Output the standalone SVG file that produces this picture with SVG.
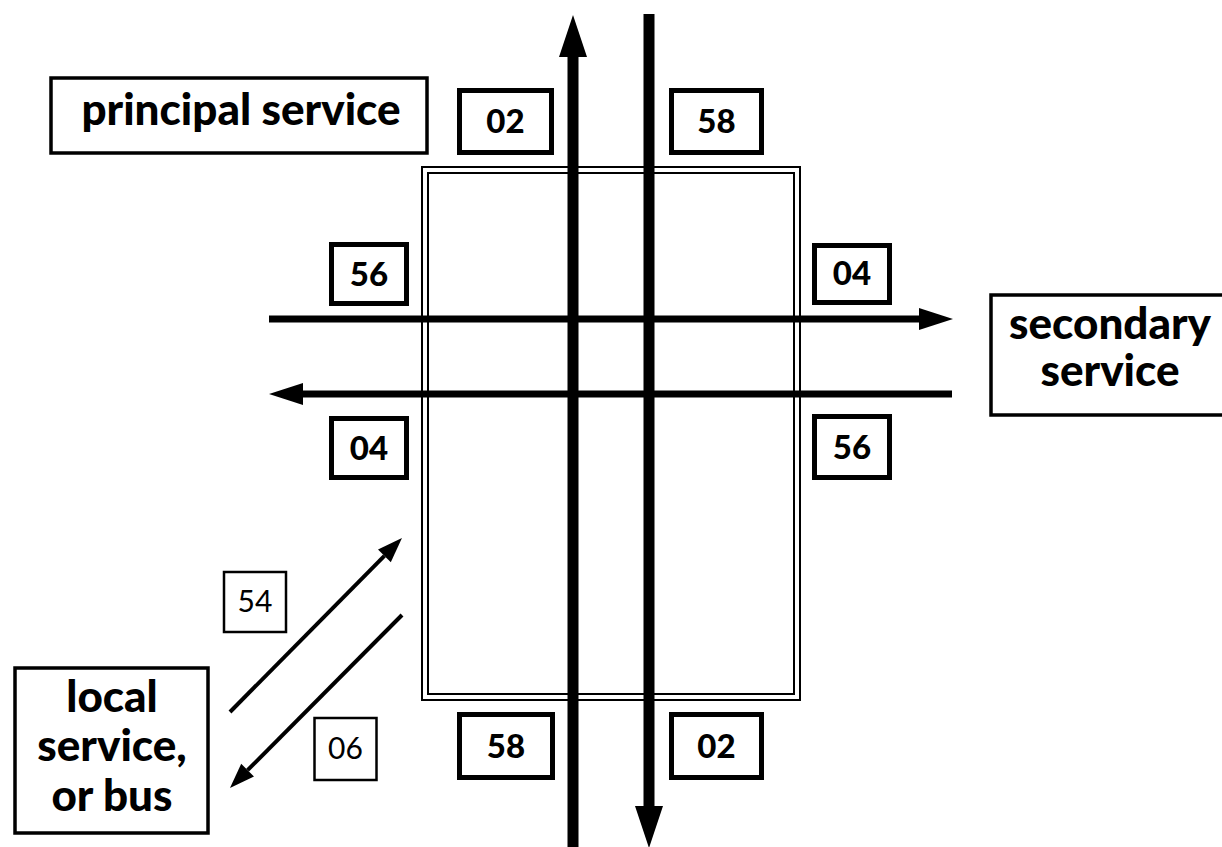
<svg xmlns="http://www.w3.org/2000/svg" width="1222" height="847" viewBox="0 0 1222 847">
  <style>
    .bg { fill: #ffffff; }
    .label { fill: #ffffff; stroke: #000000; stroke-width: 3.5; }
    .tag { fill: #ffffff; stroke: #000000; stroke-width: 5; }
    .thin { fill: #ffffff; stroke: #000000; stroke-width: 2.5; }
    .frame { fill: none; stroke: #000000; stroke-width: 2; }
    .big { font-family: Lato, "Liberation Sans", sans-serif; font-weight: 900; font-size: 44px; fill: #000000; text-anchor: middle; }
    .num { font-family: Lato, "Liberation Sans", sans-serif; font-weight: 900; font-size: 33px; fill: #000000; text-anchor: middle; }
    .numr { font-family: Lato, "Liberation Sans", sans-serif; font-weight: normal; font-size: 30px; fill: #000000; text-anchor: middle; }
    .track { stroke: #000000; fill: none; }
  </style>
  <defs>
    <marker id="headMain" markerUnits="userSpaceOnUse" orient="auto" refX="0" refY="0" markerWidth="50" markerHeight="40" viewBox="0 -20 50 40" overflow="visible">
      <path d="M0,-14 L42,0 L0,14 Z" fill="#000000"/>
    </marker>
    <marker id="headCross" markerUnits="userSpaceOnUse" orient="auto" refX="0" refY="0" markerWidth="40" markerHeight="30" viewBox="0 -15 40 30" overflow="visible">
      <path d="M0,-11 L34,0 L0,11 Z" fill="#000000"/>
    </marker>
    <marker id="headLocal" markerUnits="userSpaceOnUse" orient="auto" refX="0" refY="0" markerWidth="30" markerHeight="24" viewBox="0 -12 30 24" overflow="visible">
      <path d="M0,-9 L25,0 L0,9 Z" fill="#000000"/>
    </marker>
  </defs>

  <rect class="bg" x="0" y="0" width="1222" height="847"/>

  <!-- station building: double outline -->
  <g id="station">
    <rect class="frame" x="422" y="167" width="378" height="533"/>
    <rect class="frame" x="428" y="173" width="366" height="521"/>
  </g>

  <!-- service lines -->
  <g id="connectors" class="track">
    <line x1="573" y1="850" x2="573" y2="57" stroke-width="11" marker-end="url(#headMain)"/>
    <line x1="649" y1="14" x2="649" y2="806" stroke-width="11" marker-end="url(#headMain)"/>
    <line x1="269" y1="319" x2="919" y2="319" stroke-width="7" marker-end="url(#headCross)"/>
    <line x1="952" y1="394" x2="303" y2="394" stroke-width="7" marker-end="url(#headCross)"/>
    <line x1="230" y1="712" x2="384.4" y2="555.8" stroke-width="4" marker-end="url(#headLocal)"/>
    <line x1="402" y1="615" x2="247.6" y2="770.2" stroke-width="4" marker-end="url(#headLocal)"/>
  </g>

  <!-- service labels -->
  <g id="principal-service">
    <rect class="label" x="51" y="78" width="376" height="75"/>
    <text class="big" x="241" y="125">principal service</text>
  </g>
  <g id="secondary-service">
    <rect class="label" x="991" y="295" width="240" height="120"/>
    <text class="big" x="1110" y="339">secondary</text>
    <text class="big" x="1110" y="386">service</text>
  </g>
  <g id="local-service">
    <rect class="label" x="15" y="668" width="193" height="165"/>
    <text class="big" x="112" y="712">local</text>
    <text class="big" x="112" y="761">service,</text>
    <text class="big" x="112" y="811">or bus</text>
  </g>

  <!-- train numbers -->
  <g id="tag-02-north">
    <rect class="tag" x="459.5" y="90.5" width="92" height="62"/>
    <text class="num" x="505.5" y="133">02</text>
  </g>
  <g id="tag-58-north">
    <rect class="tag" x="671.5" y="90.5" width="90" height="62"/>
    <text class="num" x="716.5" y="133">58</text>
  </g>
  <g id="tag-56-west">
    <rect class="tag" x="331.5" y="244.5" width="75" height="59"/>
    <text class="num" x="369" y="285.5">56</text>
  </g>
  <g id="tag-04-west">
    <rect class="tag" x="331.5" y="418.5" width="75" height="59"/>
    <text class="num" x="369" y="459.5">04</text>
  </g>
  <g id="tag-04-east">
    <rect class="tag" x="814.5" y="245.5" width="75" height="57"/>
    <text class="num" x="852" y="285">04</text>
  </g>
  <g id="tag-56-east">
    <rect class="tag" x="814.5" y="416.5" width="75" height="61"/>
    <text class="num" x="852" y="458.5">56</text>
  </g>
  <g id="tag-58-south">
    <rect class="tag" x="459.5" y="714.5" width="93" height="63"/>
    <text class="num" x="506" y="757.5">58</text>
  </g>
  <g id="tag-02-south">
    <rect class="tag" x="671.5" y="714.5" width="90" height="63"/>
    <text class="num" x="716.5" y="757.5">02</text>
  </g>
  <g id="tag-54">
    <rect class="thin" x="224" y="572" width="62" height="60"/>
    <text class="numr" x="255" y="612">54</text>
  </g>
  <g id="tag-06">
    <rect class="thin" x="314.5" y="718" width="62" height="62"/>
    <text class="numr" x="345.5" y="759">06</text>
  </g>
</svg>
